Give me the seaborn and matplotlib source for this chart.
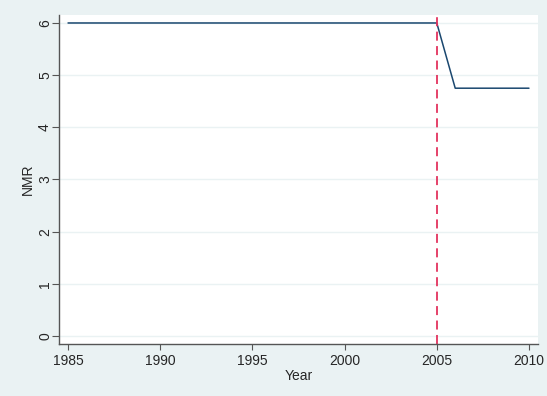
import pandas as pd
import seaborn as sns
import matplotlib.pyplot as plt

# Valores
anos = list(range(1985, 2011))
nmr = [6.0] * 21 + [4.75] * 5
ano_corte = 2005

df = pd.DataFrame({"Year": anos, "NMR": nmr})

sns.set_style("white")
plt.rcParams['font.family'] = ['Liberation Sans', 'DejaVu Sans']

fundo = "#EAF2F3"
fig = plt.figure(figsize=(5.47, 3.96), dpi=100, facecolor=fundo)
ax = fig.add_axes([59 / 547, 52 / 396, 479 / 547, 329 / 396])
ax.set_facecolor("white")

sns.lineplot(data=df, x="Year", y="NMR", ax=ax, color="#1A476F", linewidth=1.1)
ax.axvline(ano_corte, color="#E3335E", linestyle=(0, (5, 3)), linewidth=1.3)

ax.set_xlim(1984.51, 2010.49)
ax.set_ylim(-0.153, 6.153)
ax.set_xticks([1985, 1990, 1995, 2000, 2005, 2010])
ax.set_yticks(range(0, 7))
ax.grid(True, axis='y', color=fundo, linewidth=1.0)
ax.set_axisbelow(True)

for lado in ["top", "right"]:
    ax.spines[lado].set_visible(False)
for lado in ["left", "bottom"]:
    ax.spines[lado].set_color("#555555")
    ax.spines[lado].set_linewidth(1.0)

ax.tick_params(axis='x', direction='out', length=4, width=0.8, color="#555555",
               labelsize=10, pad=3, bottom=True)
ax.tick_params(axis='y', direction='out', length=5, width=0.8, color="#555555",
               labelsize=10, pad=0, left=True)
for lbl in ax.get_yticklabels():
    lbl.set_rotation(90)
    lbl.set_va('center')

ax.set_xlabel("Year", fontsize=10, labelpad=1)
ax.set_ylabel("NMR", fontsize=10, labelpad=2)

fig.savefig("out.png", dpi=100, facecolor=fundo)
